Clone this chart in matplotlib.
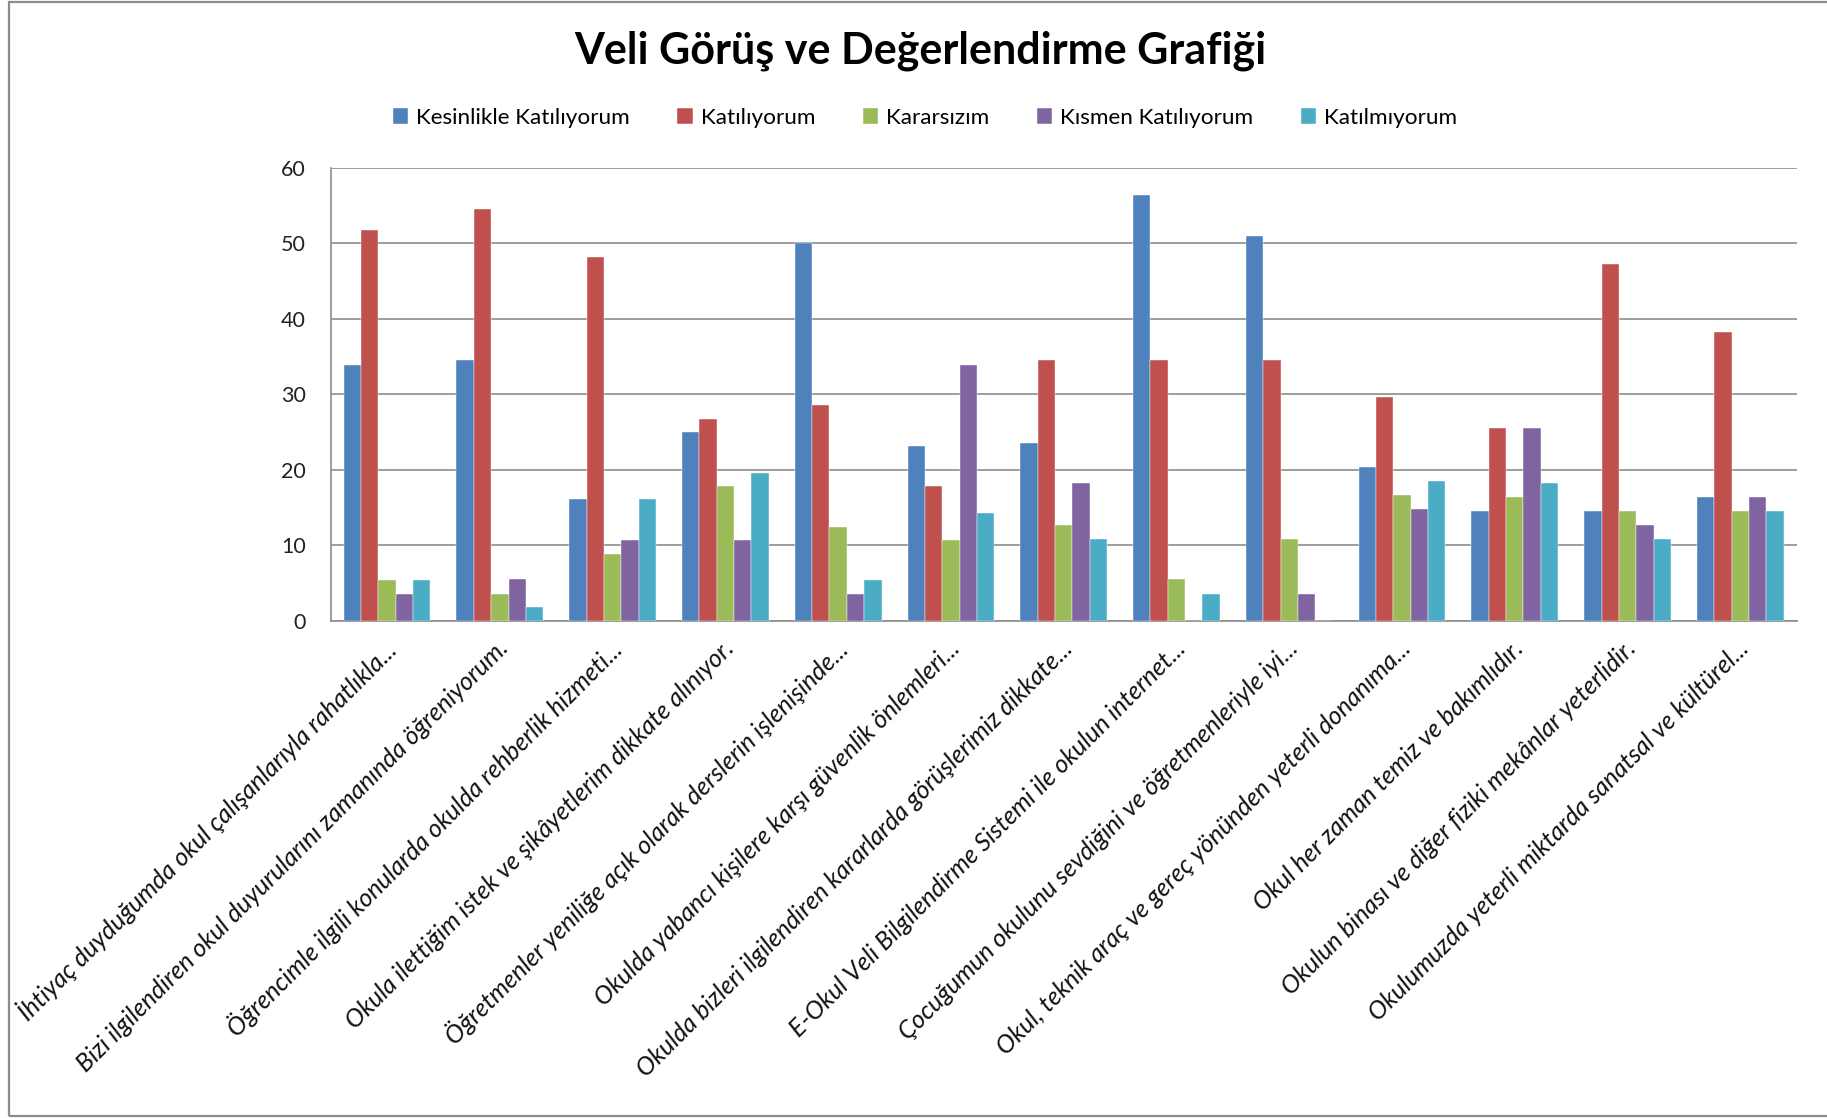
import matplotlib
matplotlib.use("Agg")
import matplotlib.pyplot as plt
import numpy as np
from matplotlib.transforms import ScaledTranslation
from matplotlib.patches import Rectangle

plt.rcParams['font.family'] = ['Lato', 'DejaVu Sans']

categories = [
    "İhtiyaç duyduğumda okul çalışanlarıyla rahatlıkla...",
    "Bizi ilgilendiren okul duyurularını zamanında öğreniyorum.",
    "Öğrencimle ilgili konularda okulda rehberlik hizmeti...",
    "Okula ilettiğim istek ve şikâyetlerim dikkate alınıyor.",
    "Öğretmenler yeniliğe açık olarak derslerin işlenişinde...",
    "Okulda yabancı kişilere karşı güvenlik önlemleri...",
    "Okulda bizleri ilgilendiren kararlarda görüşlerimiz dikkate...",
    "E-Okul Veli Bilgilendirme Sistemi ile okulun internet...",
    "Çocuğumun okulunu sevdiğini ve öğretmenleriyle iyi...",
    "Okul, teknik araç ve gereç yönünden yeterli donanıma...",
    "Okul her zaman temiz ve bakımlıdır.",
    "Okulun binası ve diğer fiziki mekânlar yeterlidir.",
    "Okulumuzda yeterli miktarda sanatsal ve kültürel...",
]

series_names = ["Kesinlikle Katılıyorum", "Katılıyorum", "Kararsızım",
                "Kısmen Katılıyorum", "Katılmıyorum"]

kesinlikle = [33.9, 34.5, 16.1, 25.0, 50.0, 23.2, 23.6, 56.4, 50.9, 20.4, 14.5, 14.5, 16.4]
katiliyorum = [51.8, 54.5, 48.2, 26.8, 28.6, 17.9, 34.5, 34.5, 34.5, 29.6, 25.5, 47.3, 38.2]
kararsizim = [5.4, 3.6, 8.9, 17.9, 12.5, 10.7, 12.7, 5.5, 10.9, 16.7, 16.4, 14.5, 14.5]
kismen = [3.6, 5.5, 10.7, 10.7, 3.6, 33.9, 18.2, 0.0, 3.6, 14.8, 25.5, 12.7, 16.4]
katilmiyorum = [5.4, 1.8, 16.1, 19.6, 5.4, 14.3, 10.9, 3.6, 0.0, 18.5, 18.2, 10.9, 14.5]

yticks = [0, 10, 20, 30, 40, 50, 60]

colors = ["#4F81BD", "#C0504D", "#9BBB59", "#8064A2", "#4BACC6"]

W, H = 1827, 1118
fig = plt.figure(figsize=(W / 100, H / 100), dpi=100)
fig.patch.set_facecolor("white")

# outer chart border
fig.patches.append(Rectangle((9 / W, 2 / H), 1.2, 1 - 4 / H, transform=fig.transFigure,
                             fill=False, edgecolor="#8c8c8c", linewidth=1.6, zorder=0))

left, right, top, bottom = 330.7, 1796.7, 167.7, 621.0
ax = fig.add_axes([left / W, 1 - bottom / H, (right - left) / W, (bottom - top) / H])

data = [kesinlikle, katiliyorum, kararsizim, kismen, katilmiyorum]
n = len(categories)
x = np.arange(n)
bw = 1 / 6.5
for i, (vals, c, name) in enumerate(zip(data, colors, series_names)):
    ax.bar(x + (i - 2) * bw, vals, width=bw, color=c, label=name, zorder=3,
           edgecolor="white", linewidth=0.3)

ax.set_xlim(-0.5, n - 0.5)
ax.set_ylim(0, 60)
ax.set_yticks(yticks)
ax.set_yticklabels([str(v) for v in yticks], fontsize=15.5, color="#222222")
ax.yaxis.grid(True, color="#8c8c8c", linewidth=1.2, zorder=0)
ax.set_axisbelow(True)
for s in ["top", "right"]:
    ax.spines[s].set_visible(False)
for s in ["left", "bottom"]:
    ax.spines[s].set_color("#8c8c8c")
    ax.spines[s].set_linewidth(1.2)
ax.tick_params(axis="y", length=0, pad=18)
ax.tick_params(axis="x", length=0, pad=17)

ax.set_xticks(x)
ax.set_xticklabels(categories, rotation=45, ha="right", va="center",
                   rotation_mode="anchor", fontsize=18.0, fontstyle="italic",
                   color="#111111")
off = ScaledTranslation(0.05, 0, fig.dpi_scale_trans)
for lab in ax.get_xticklabels():
    lab.set_transform(lab.get_transform() + off)

fig.text(920 / W, 1 - 51 / H, "Veli Görüş ve Değerlendirme Grafiği", ha="center", va="center",
         fontsize=31, fontweight="bold", color="black")

leg = fig.legend(loc="center", bbox_to_anchor=(925 / W, 1 - 118 / H), ncol=5, frameon=False,
                 fontsize=16.2, handlelength=0.7, handleheight=0.7, handletextpad=0.35,
                 columnspacing=2.1, borderaxespad=0)

fig.savefig("out.png", dpi=100, facecolor="white")
